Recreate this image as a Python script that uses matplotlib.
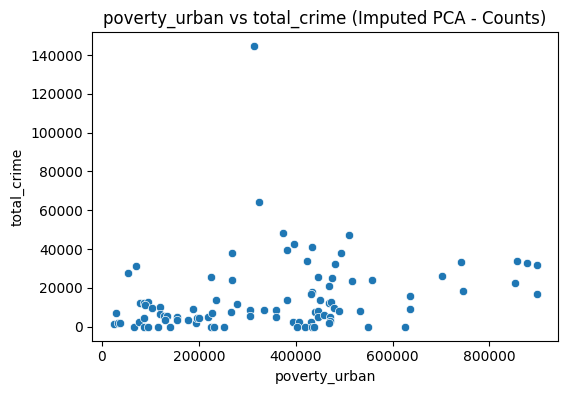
import numpy as np
import matplotlib
matplotlib.use("Agg")
import matplotlib.pyplot as plt
import seaborn as sns

# values
poverty_urban = [
    24000, 28900, 32200, 37800, 52900, 69400, 65300, 75600, 77700, 85900,
    94200, 88000, 87400, 85900, 94200, 103300, 114900, 120400, 120400, 127300,
    134300, 130800, 141100, 155000, 155000, 176800, 187200, 194200, 196300, 201000,
    218200, 224400, 227300, 225800, 230600, 234700, 251200, 265700, 267800, 267800,
    278100, 306400, 304900, 333900, 358700, 358700,
    313200, 324400, 373100, 509500, 397300, 381400, 433000, 492900, 422700, 480500,
    445400, 474400, 468200, 515700, 557800, 433900, 431000, 381400, 449600, 468200,
    473700, 479900, 488800, 532200, 440700, 445400, 445400, 457800, 471700, 470200,
    468200, 393800, 406200, 431000, 402900, 418600, 433900, 438600, 548700, 625200,
    635500, 635500, 701600, 740900, 745000, 856600, 877200, 897900, 852400, 897900,
]
total_crime = [
    1550, 7080, 1910, 2070, 27780, 31370, 0, 2580, 12040, 12040,
    12560, 11210, 4500, 0, 0, 9460, 0, 9970, 6560, 5680,
    5530, 3460, 0, 5170, 3460, 3460, 9150, 2070, 4500, 4500,
    4810, 25840, 6870, 0, 0, 13800, 0, 7390, 38090, 24130,
    11730, 8790, 5530, 8790, 8790, 5010,
    144550, 64440, 48420, 47030, 42740, 39640, 41190, 38090, 33950, 32400,
    25690, 25170, 21030, 23620, 24130, 17930, 17050, 13800, 13800, 12400,
    12920, 9660, 8110, 8110, 7750, 8270, 5010, 6050, 5170, 2740,
    1910, 2580, 2580, 2580, 0, 0, 0, 0, 0, 0,
    15870, 9150, 26200, 33440, 18450, 33950, 32920, 31890, 22580, 16900,
]

fig, ax = plt.subplots(figsize=(5.67, 3.93), dpi=100)
fig.subplots_adjust(left=0.163, right=0.984, top=0.918, bottom=0.133)

sns.scatterplot(x=poverty_urban, y=total_crime, ax=ax)
ax.set_title("poverty_urban vs total_crime (Imputed PCA - Counts)")
ax.set_xlabel("poverty_urban")
ax.set_ylabel("total_crime")

fig.savefig("out.png", dpi=100)
